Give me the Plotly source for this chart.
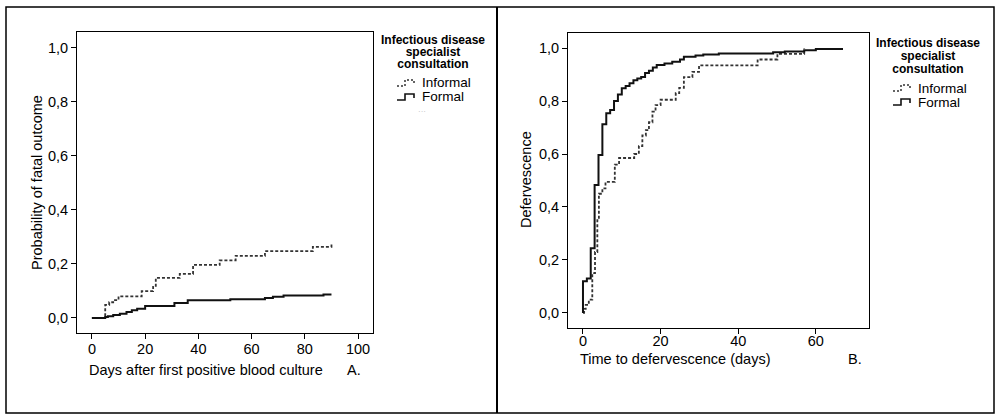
import plotly.graph_objects as go

# ---------------- data ----------------
# Panel A: cumulative probability of fatal outcome
a_informal_days = [0, 5, 6.5, 8, 10, 18.7, 23, 24, 33, 38, 48, 54, 65, 83, 90]
a_informal_prob = [0, 0.048, 0.058, 0.066, 0.08, 0.099, 0.115, 0.148, 0.163, 0.196,
                   0.213, 0.23, 0.247, 0.263, 0.277]
a_formal_days = [0, 5, 6, 8, 10.5, 13, 15, 17, 20, 31, 36, 52, 65, 68, 72, 87, 90]
a_formal_prob = [0, 0.003, 0.006, 0.011, 0.015, 0.022, 0.028, 0.034, 0.044, 0.055,
                 0.065, 0.069, 0.074, 0.078, 0.083, 0.087, 0.087]

# Panel B: defervescence
b_informal_days = [0, 0.3, 0.7, 1.5, 2.4, 3.1, 3.7, 4.1, 5, 5.8, 8.2, 9.3, 13.2, 14.4,
                   15.3, 16.2, 17, 17.9, 18.7, 20, 23.9, 24.8, 26, 28.2, 29.9, 45, 50.1, 57]
b_informal_prob = [0, 0.015, 0.03, 0.05, 0.15, 0.23, 0.35, 0.45, 0.47, 0.495, 0.56, 0.585,
                   0.6, 0.63, 0.67, 0.69, 0.72, 0.76, 0.785, 0.805, 0.83, 0.85, 0.89,
                   0.91, 0.935, 0.957, 0.978, 0.998]
b_formal_days = [0, 0, 1, 2, 3, 4, 5, 6, 7, 8, 9, 10, 11, 12, 13, 14, 15, 16, 17, 18, 19,
                 21, 23, 25, 26, 29, 31, 35, 49, 52, 57, 60, 67]
b_formal_prob = [0, 0.12, 0.13, 0.244, 0.483, 0.596, 0.712, 0.754, 0.766, 0.80, 0.825,
                 0.848, 0.857, 0.867, 0.879, 0.885, 0.891, 0.906, 0.914, 0.927, 0.936,
                 0.942, 0.948, 0.957, 0.967, 0.972, 0.976, 0.98, 0.984, 0.987, 0.992,
                 0.997, 0.997]

y_ticks = [0, 0.2, 0.4, 0.6, 0.8, 1.0]
a_x_ticks = [0, 20, 40, 60, 80, 100]
b_x_ticks = [0, 20, 40, 60]
legend_title = ["Infectious disease", "specialist", "consultation"]
legend_names = ["Informal", "Formal"]

# ---------------- layout helpers ----------------
W, H = 996, 414
FONT = "Liberation Sans, Arial, sans-serif"
FS = 14.5


def px(x):
    return x / W


def py(y):
    return 1 - y / H


fig = go.Figure()

dotted = dict(color="#333333", width=1.8, dash="3px,2px", shape="hv")
solid = dict(color="#111111", width=2, shape="hv")

fig.add_trace(go.Scatter(x=a_informal_days, y=a_informal_prob, mode="lines",
                         line=dotted, xaxis="x", yaxis="y", showlegend=False))
fig.add_trace(go.Scatter(x=a_formal_days, y=a_formal_prob, mode="lines",
                         line=solid, xaxis="x", yaxis="y", showlegend=False))
fig.add_trace(go.Scatter(x=b_informal_days, y=b_informal_prob, mode="lines",
                         line=dotted, xaxis="x2", yaxis="y2", showlegend=False))
fig.add_trace(go.Scatter(x=b_formal_days, y=b_formal_prob, mode="lines",
                         line=solid, xaxis="x2", yaxis="y2", showlegend=False))

axis_common = dict(showline=True, linecolor="black", linewidth=1, mirror=True,
                   ticks="outside", ticklen=5, tickcolor="black", showgrid=False,
                   zeroline=False, tickfont=dict(family=FONT, size=FS, color="black"))

fig.update_layout(
    width=W, height=H,
    margin=dict(l=0, r=0, t=0, b=0),
    paper_bgcolor="white", plot_bgcolor="white",
    separators=", ",
    font=dict(family=FONT, color="black"),
    xaxis=dict(domain=[px(77), px(373)], range=[-5.6, 105.6], tickvals=a_x_ticks,
               anchor="y", ticklabelstandoff=-2, **axis_common),
    yaxis=dict(domain=[py(333), py(32)], range=[-0.056, 1.059], tickvals=y_ticks,
               tickformat=".1f", anchor="x", **axis_common),
    xaxis2=dict(domain=[px(568), px(869)], range=[-3.86, 73.7], tickvals=b_x_ticks,
                anchor="y2", ticklabelstandoff=-5, **axis_common),
    yaxis2=dict(domain=[py(328), py(33)], range=[-0.057, 1.057], tickvals=y_ticks,
                tickformat=".1f", anchor="x2", **axis_common),
)

ann = []


def text(x, y, s, size=FS, bold=False, angle=0, xanchor="center", color="black",
         align="center"):
    ann.append(dict(x=px(x), y=py(y), xref="paper", yref="paper", text=s,
                    showarrow=False, xanchor=xanchor, yanchor="middle",
                    textangle=angle, align=align,
                    font=dict(family=FONT, size=size, color=color,
                              weight="bold" if bold else "normal")))


# axis titles and panel letters
text(37, 183, "Probability of fatal outcome", angle=-90)
text(206, 370, "Days after first positive blood culture")
text(354, 370, "A.")
text(526, 180, "Defervescence", angle=-90)
text(675, 359, "Time to defervescence (days)")
text(855, 359, "B.")

# legends (multi-line texts with tight line spacing: base size sets spacing,
# inner span sets glyph size)
shapes = []


def legend(cx, ty, dy, ix, iy1, iy2):
    title = "<br>".join(f"<span style='font-size:12px'><b>{t}</b></span>"
                        for t in legend_title)
    text(cx, ty + dy, title, size=dy / 1.3)
    items = "<br>".join(f"<span style='font-size:13.5px'>{t}</span>"
                        for t in legend_names)
    text(ix, (iy1 + iy2) / 2, items, size=(iy2 - iy1) / 1.3, xanchor="left",
         align="left")
    x0 = ix - 23
    b1 = iy1 + 3
    p1 = (f"M {px(x0)},{py(b1)} L {px(x0 + 8)},{py(b1)} L {px(x0 + 8)},{py(b1 - 6)} "
          f"L {px(x0 + 17)},{py(b1 - 6)} L {px(x0 + 17)},{py(b1 - 2)}")
    shapes.append(dict(type="path", path=p1, xref="paper", yref="paper",
                       line=dict(color="#333333", width=1.5, dash="2px,2px")))
    b2 = iy2 + 3
    p2 = (f"M {px(x0)},{py(b2)} L {px(x0 + 8)},{py(b2)} L {px(x0 + 8)},{py(b2 - 6)} "
          f"L {px(x0 + 17)},{py(b2 - 6)} L {px(x0 + 17)},{py(b2 - 2)}")
    shapes.append(dict(type="path", path=p2, xref="paper", yref="paper",
                       line=dict(color="#111111", width=1.6)))


legend(433, 40, 12.2, 420, 83, 97)
legend(928, 43, 12.8, 916, 88, 102)
text(422, 112, "···", size=8, color="#bbbbbb")

# outer frame and divider
shapes.append(dict(type="rect", xref="paper", yref="paper",
                   x0=px(6), x1=px(994), y0=py(413), y1=py(7),
                   line=dict(color="black", width=1.5)))
shapes.append(dict(type="line", xref="paper", yref="paper",
                   x0=px(497), x1=px(497), y0=py(413), y1=py(7),
                   line=dict(color="black", width=2)))

fig.update_layout(annotations=ann, shapes=shapes)

fig.write_html("out.html", config={"displayModeBar": False},
               post_script="document.body.style.margin='0px';"
                           "document.body.style.overflow='hidden';")
